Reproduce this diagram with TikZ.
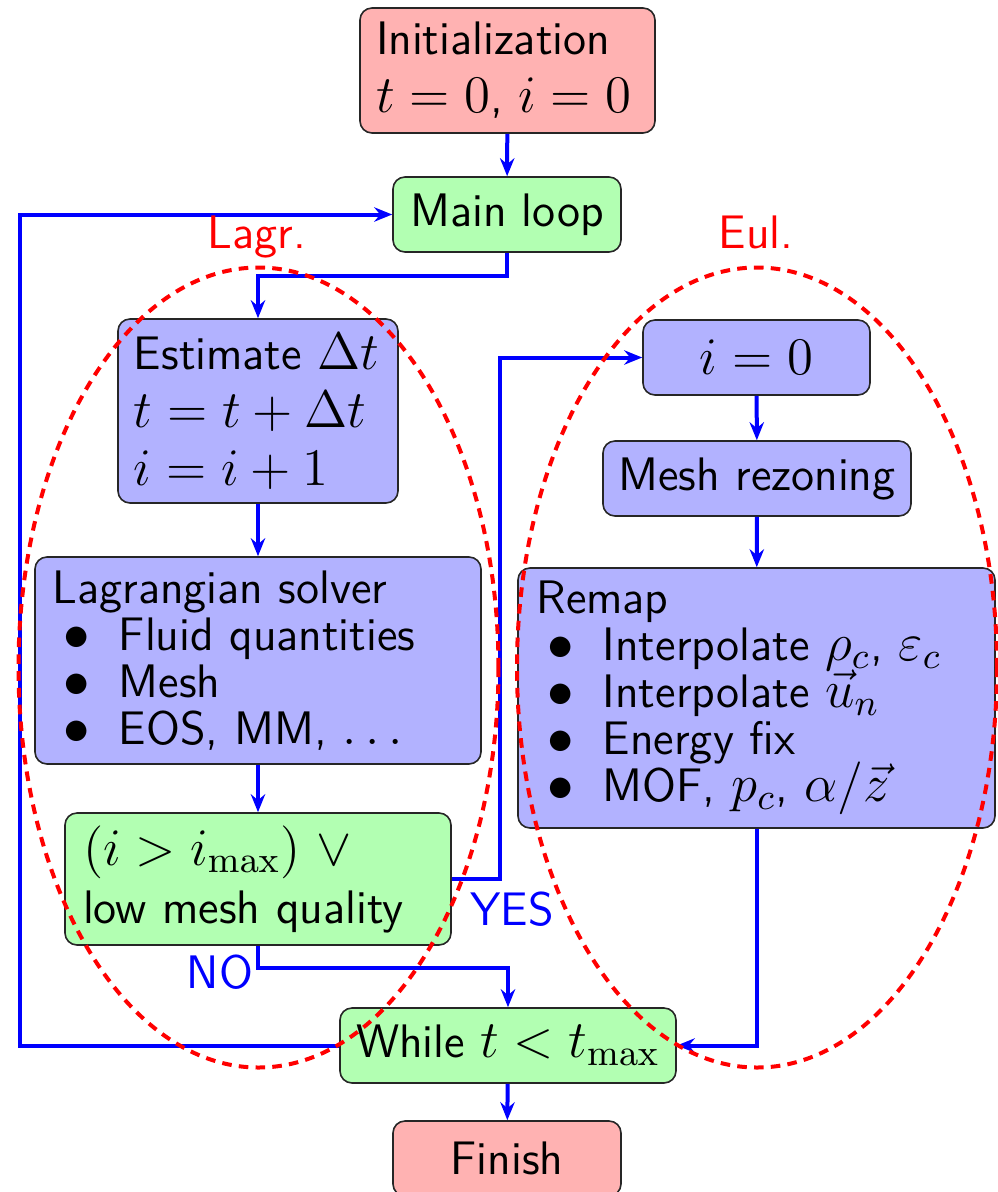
\RequirePackage{fix-cm}
\documentclass[tikz,border=0pt]{standalone}
\usetikzlibrary{arrows.meta}

% formulas are set a little larger than the sans-serif text around them
\DeclareMathSizes{11.75}{13.2}{9.25}{7}

% keep baselines evenly spaced even when a line holds tall formulas
\newcommand\fixlines{\lineskiplimit=-20pt\relax}

% bullet item inside a node with a fixed text width
\newcommand\bitem{\hspace*{2.7pt}\makebox[13.9pt][l]{$\bullet$}}

\begin{document}
\begin{tikzpicture}[x=0.25pt,y=-0.25pt,
  box/.style={draw=black!85, line width=0.4pt, rounded corners=3pt,
    font=\fontsize{11.75}{14.5}\selectfont\sffamily\fixlines, inner ysep=0pt},
  initbox/.style={box, fill=red!30},
  ctrlbox/.style={box, fill=green!30},
  workbox/.style={box, fill=blue!30},
  listtext/.style={font=\fontsize{11.75}{11.75}\selectfont\sffamily\fixlines},
  flow/.style={draw=blue, line width=1pt, -{Stealth[length=4.5pt,width=3.6pt,inset=1.5pt]}},
  region/.style={draw=red, line width=1pt, dash pattern=on 2.4pt off 1.8pt},
  regionlabel/.style={text=red, font=\fontsize{11.75}{14.5}\selectfont\sffamily, anchor=base, inner sep=0pt},
  answer/.style={text=blue, font=\fontsize{11.75}{14.5}\selectfont\sffamily, anchor=base, inner sep=0pt}
]
\useasboundingbox (0,0) rectangle (998,1192);

% left column and centre column
\node[initbox, minimum width=73.75pt, minimum height=31.25pt, text width=65.75pt,
      inner xsep=4pt, align=left] (init) at (507.5,70.5)
  {Initialization\\ $t=0$, $i=0$};
\node[ctrlbox, minimum width=57pt, minimum height=18.75pt] (main) at (507,214.5) {Main loop};
\node[workbox, minimum width=70pt, minimum height=46pt, text width=62pt,
      inner xsep=4pt, align=left] (est) at (258,411)
  {Estimate $\Delta t$\\ $t=t+\Delta t$\\ $i=i+1$};
\node[workbox, listtext, minimum width=111.5pt, minimum height=51.75pt, text width=102.75pt,
      inner xsep=4.375pt, align=left] (lag) at (258,660.5)
  {Lagrangian solver\\ \bitem Fluid quantities\\ \bitem Mesh\\ \bitem EOS, MM, $\ldots$};
\node[ctrlbox, minimum width=96.5pt, minimum height=33pt, text width=87.5pt,
      inner xsep=4.5pt, align=left] (cond) at (258,879)
  {$(i>i_{\max})$ $\vee$\\ low mesh quality};
\node[ctrlbox, minimum width=84pt, minimum height=18.75pt] (while) at (508,1045.5) {While $t<t_{\max}$};
\node[initbox, minimum width=57pt, minimum height=18.75pt] (finish) at (507,1158.5) {Finish};

% right column
\node[workbox, minimum width=56.75pt, minimum height=18.75pt] (izero) at (756.5,357.5) {$i=0$};
\node[workbox, minimum width=77pt, minimum height=18.75pt] (mesh) at (757,478.5) {Mesh rezoning};
\node[workbox, listtext, minimum width=119.25pt, minimum height=65pt, text width=110pt,
      inner xsep=4.625pt, align=left] (remap) at (756.5,698)
  {Remap\\ \bitem Interpolate $\rho_c$, $\varepsilon_c$\\ \bitem Interpolate $\vec{u}_n$\\
   \bitem Energy fix\\ \bitem MOF, $p_c$, $\alpha/\vec{z}$};

% bend points of the connectors
\coordinate (mainbend) at (258,276);
\coordinate (yesbend) at (500,357.5);
\coordinate (nobend) at (258,968);
\coordinate (loopbend) at (20,214.5);

% connectors
\draw[flow] (init) -- (main);
\draw[flow] (main.south) |- (mainbend) -- (est.north);
\draw[flow] (est) -- (lag);
\draw[flow] (lag) -- (cond);
\draw[flow] (cond.east) -| (yesbend) -- (izero.west);
\draw[flow] (cond.south) -- (nobend) -| (while.north);
\draw[flow] (izero) -- (mesh);
\draw[flow] (mesh) -- (remap);
\draw[flow] (remap.south) |- (while.east);
\draw[flow] (while) -- (finish);
\draw[flow] (while.west) -| (loopbend) -- (main.west);

% branch labels
\node[answer] (yes) at (512,925) {YES};
\node[answer] (no) at (220,988) {NO};

% Lagrangian and Eulerian phases
\node[regionlabel] (lagrlabel) at (257,248) {Lagr.};
\node[regionlabel] (eullabel) at (756,248) {Eul.};
\draw[region] (258.5,667.5) ellipse [x radius=240, y radius=400];
\draw[region] (757,667.5) ellipse [x radius=240, y radius=400];
\end{tikzpicture}
\end{document}
